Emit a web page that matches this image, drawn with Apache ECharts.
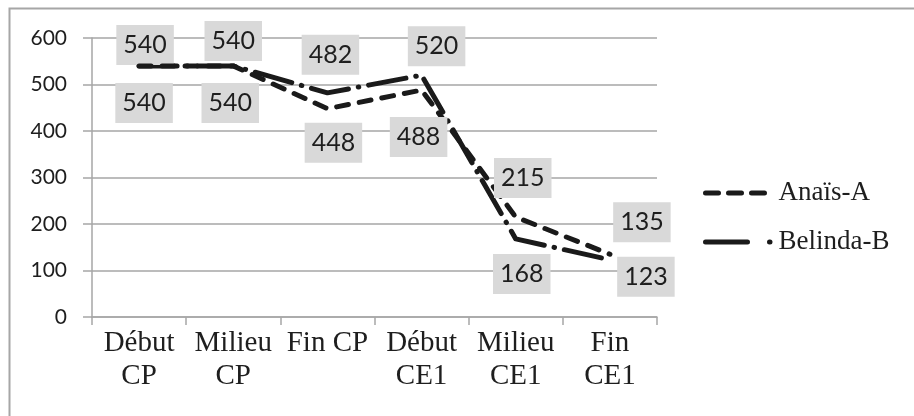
<!DOCTYPE html>
<html>
<head>
<meta charset="utf-8">
<script src="https://cdn.jsdelivr.net/npm/echarts@6/dist/echarts.min.js"></script>
<style>
  html, body { margin: 0; padding: 0; background: #fff; }
  #main { width: 914px; height: 416px; }
</style>
</head>
<body>
<div id="main"></div>
<script>
// categories and values
var periodes = ['Début\nCP', 'Milieu\nCP', 'Fin CP', 'Début\nCE1', 'Milieu\nCE1', 'Fin\nCE1'];
var anaisA = [540, 540, 448, 488, 215, 135];
var belindaB = [540, 540, 482, 520, 168, 123];
var yTicks = [0, 100, 200, 300, 400, 500, 600];

// where each value box sits relative to its point (px)
var offsetA = [[5, 37], [-3, 37], [6, 34], [-3, 47], [7, -39], [32, -32]];
var offsetB = [[6, -21], [0, -25], [3, -38], [15, -29], [6, 35], [36, 17]];

function withLabels(values, offsets) {
  return values.map(function (v, i) {
    return { value: v, label: { offset: offsets[i] } };
  });
}

var boxLabel = {
  show: true,
  position: 'inside',
  color: '#1e1e1e',
  fontFamily: 'Lato',
  fontSize: 25,
  lineHeight: 30,
  backgroundColor: '#D9D9D9',
  padding: [5, 7]
};

var myChart = echarts.init(document.getElementById('main'));
myChart.setOption({
  animation: false,
  graphic: [{
    type: 'rect',
    shape: { x: 9.5, y: 8.5, width: 1000, height: 500 },
    style: { fill: 'none', stroke: '#A6A6A6', lineWidth: 2 },
    silent: true
  }],
  grid: { left: 92, right: 257, top: 38, bottom: 99, outerBoundsMode: 'none' },
  legend: {
    orient: 'vertical',
    left: 698,
    top: 173,
    itemWidth: 68,
    itemHeight: 5,
    itemGap: 19,
    lineStyle: { width: 5, color: '#1a1a1a', cap: 'round' },
    textStyle: { fontFamily: 'Liberation Serif', fontSize: 27, lineHeight: 30, color: '#1e1e1e' },
    data: [
      { name: 'Anaïs-A', lineStyle: { width: 5, color: '#1a1a1a', cap: 'round', type: [13, 10] } },
      { name: 'Belinda-B', lineStyle: { width: 5, color: '#1a1a1a', cap: 'round', type: [42, 22, 0.5, 20] } }
    ]
  },
  xAxis: {
    type: 'category',
    data: periodes,
    axisLine: { lineStyle: { color: '#A6A6A6', width: 1.5 } },
    axisTick: { show: true, length: 8, lineStyle: { color: '#A6A6A6', width: 1.5 } },
    axisLabel: {
      margin: 10,
      fontFamily: 'Liberation Serif',
      fontSize: 29,
      lineHeight: 33,
      color: '#1e1e1e',
      interval: 0
    }
  },
  yAxis: {
    type: 'value',
    min: yTicks[0],
    max: yTicks[yTicks.length - 1],
    interval: 100,
    axisLine: { show: true, lineStyle: { color: '#A6A6A6', width: 1.5 } },
    axisTick: { show: true, length: 9, lineStyle: { color: '#A6A6A6', width: 1.5 } },
    splitLine: { lineStyle: { color: '#A6A6A6', width: 1.5 } },
    axisLabel: { margin: 25, fontFamily: 'Lato', fontSize: 21, color: '#1e1e1e' }
  },
  series: [
    {
      name: 'Anaïs-A',
      type: 'line',
      data: withLabels(anaisA, offsetA),
      symbol: 'circle',
      symbolSize: 1,
      itemStyle: { color: 'rgba(0,0,0,0)' },
      lineStyle: { color: '#1a1a1a', width: 5, type: [12, 11], cap: 'round', join: 'round' },
      label: boxLabel,
      z: 3
    },
    {
      name: 'Belinda-B',
      type: 'line',
      data: withLabels(belindaB, offsetB),
      symbol: 'circle',
      symbolSize: 1,
      itemStyle: { color: 'rgba(0,0,0,0)' },
      lineStyle: { color: '#1a1a1a', width: 5, type: [38, 10, 0.5, 10], cap: 'round', join: 'round' },
      label: boxLabel,
      z: 2
    }
  ]
});
</script>
</body>
</html>
